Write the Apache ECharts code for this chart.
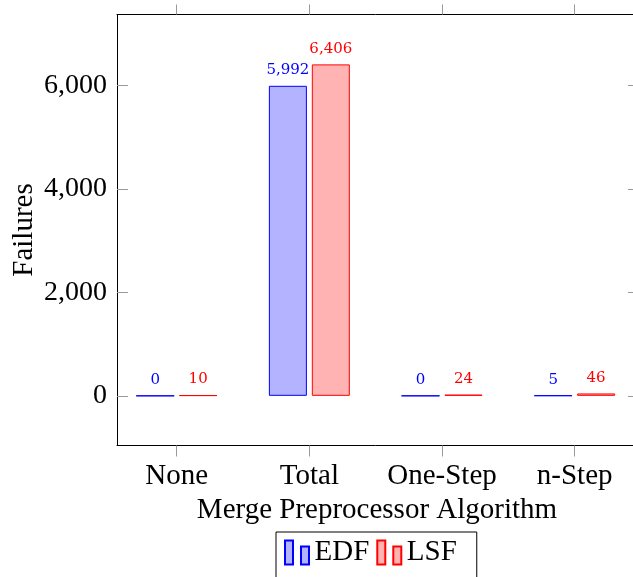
<!DOCTYPE html>
<html>
<head>
<meta charset="utf-8">
<script src="https://cdn.jsdelivr.net/npm/echarts@6/dist/echarts.min.js"></script>
<style>
  html, body { margin: 0; padding: 0; background: #fff; }
  #chart { width: 633px; height: 577px; }
</style>
</head>
<body>
<div id="chart"></div>
<script>
const categories = ["None", "Total", "One-Step", "n-Step"];
const edfValues = [0, 5992, 0, 5];
const lsfValues = [10, 6406, 24, 46];
const yTicks = [0, 2000, 4000, 6000];
const xTicks = [0, 1, 2, 3];

const serif = "'Liberation Serif', 'DejaVu Serif', serif";
const fmt = (v) => Number(v).toLocaleString("en-US");

const chart = echarts.init(document.getElementById("chart"));

const tickStyle = { color: "#9a9a9a", width: 1 };
const frameLine = { show: true, onZero: false, lineStyle: { color: "#000", width: 1 } };

function barSeries(name, values, fill, stroke) {
  return {
    name,
    type: "bar",
    barWidth: 38,
    barGap: "13%",
    data: values.map((v, i) => [i, v]),
    itemStyle: { color: fill, borderColor: stroke, borderWidth: 1 },
    label: {
      show: true,
      position: "top",
      distance: 8,
      color: stroke,
      fontFamily: "'DejaVu Serif', serif",
      fontSize: 15,
      formatter: (p) => fmt(p.value[1]),
    },
  };
}

chart.setOption({
  animation: false,
  backgroundColor: "#fff",
  grid: { left: 117, top: 14.5, right: -4, bottom: 131.5, containLabel: false, outerBoundsMode: "none" },
  // y axis title drawn as rotated text so it sits where the reference has it
  graphic: [
    {
      type: "text",
      x: 24,
      y: 230,
      rotation: Math.PI / 2,
      style: {
        text: "Failures",
        fontFamily: serif,
        fontSize: 29,
        fill: "#000",
        textAlign: "center",
        textVerticalAlign: "middle",
      },
    },
  ],
  legend: {
    left: 276,
    top: 532,
    orient: "horizontal",
    borderColor: "#000",
    borderWidth: 1,
    padding: [6, 20, 20, 8],
    itemWidth: 25,
    itemHeight: 24,
    itemGap: 7,
    icon: "path://M0,0 h8 v24 h-8 Z M16,6 h8 v18 h-8 Z",
    textStyle: { fontFamily: serif, fontSize: 29, color: "#000" },
  },
  xAxis: [
    {
      type: "value",
      position: "bottom",
      min: -0.45,
      max: 3.47,
      splitLine: { show: false },
      axisLine: frameLine,
      axisTick: { show: true, customValues: xTicks, length: 11, lineStyle: tickStyle },
      axisLabel: {
        customValues: xTicks,
        formatter: (v) => categories[v],
        fontFamily: serif,
        fontSize: 29,
        color: "#000",
        margin: 16,
      },
      name: "Merge Preprocessor Algorithm",
      nameLocation: "middle",
      nameGap: 48,
      nameTextStyle: { fontFamily: serif, fontSize: 29, color: "#000" },
    },
    {
      type: "value",
      position: "top",
      min: -0.45,
      max: 3.47,
      splitLine: { show: false },
      axisLine: frameLine,
      axisTick: { show: true, customValues: xTicks, length: 10, lineStyle: tickStyle },
      axisLabel: { show: false },
    },
  ],
  yAxis: [
    {
      type: "value",
      position: "left",
      min: -960,
      max: 7370,
      splitLine: { show: false },
      axisLine: frameLine,
      axisTick: { show: true, inside: true, customValues: yTicks, length: 11, lineStyle: tickStyle },
      axisLabel: {
        customValues: yTicks,
        formatter: fmt,
        fontFamily: serif,
        fontSize: 28,
        color: "#000",
        margin: 10,
      },
    },
    {
      type: "value",
      position: "right",
      offset: 3,
      min: -960,
      max: 7370,
      splitLine: { show: false },
      axisLine: { show: false, onZero: false },
      axisTick: { show: true, inside: true, customValues: yTicks, length: 12, lineStyle: tickStyle },
      axisLabel: { show: false },
    },
  ],
  series: [
    barSeries("EDF", edfValues, "#b3b3ff", "#0000ff"),
    barSeries("LSF", lsfValues, "#ffb3b3", "#ff0000"),
  ],
});
</script>
</body>
</html>
